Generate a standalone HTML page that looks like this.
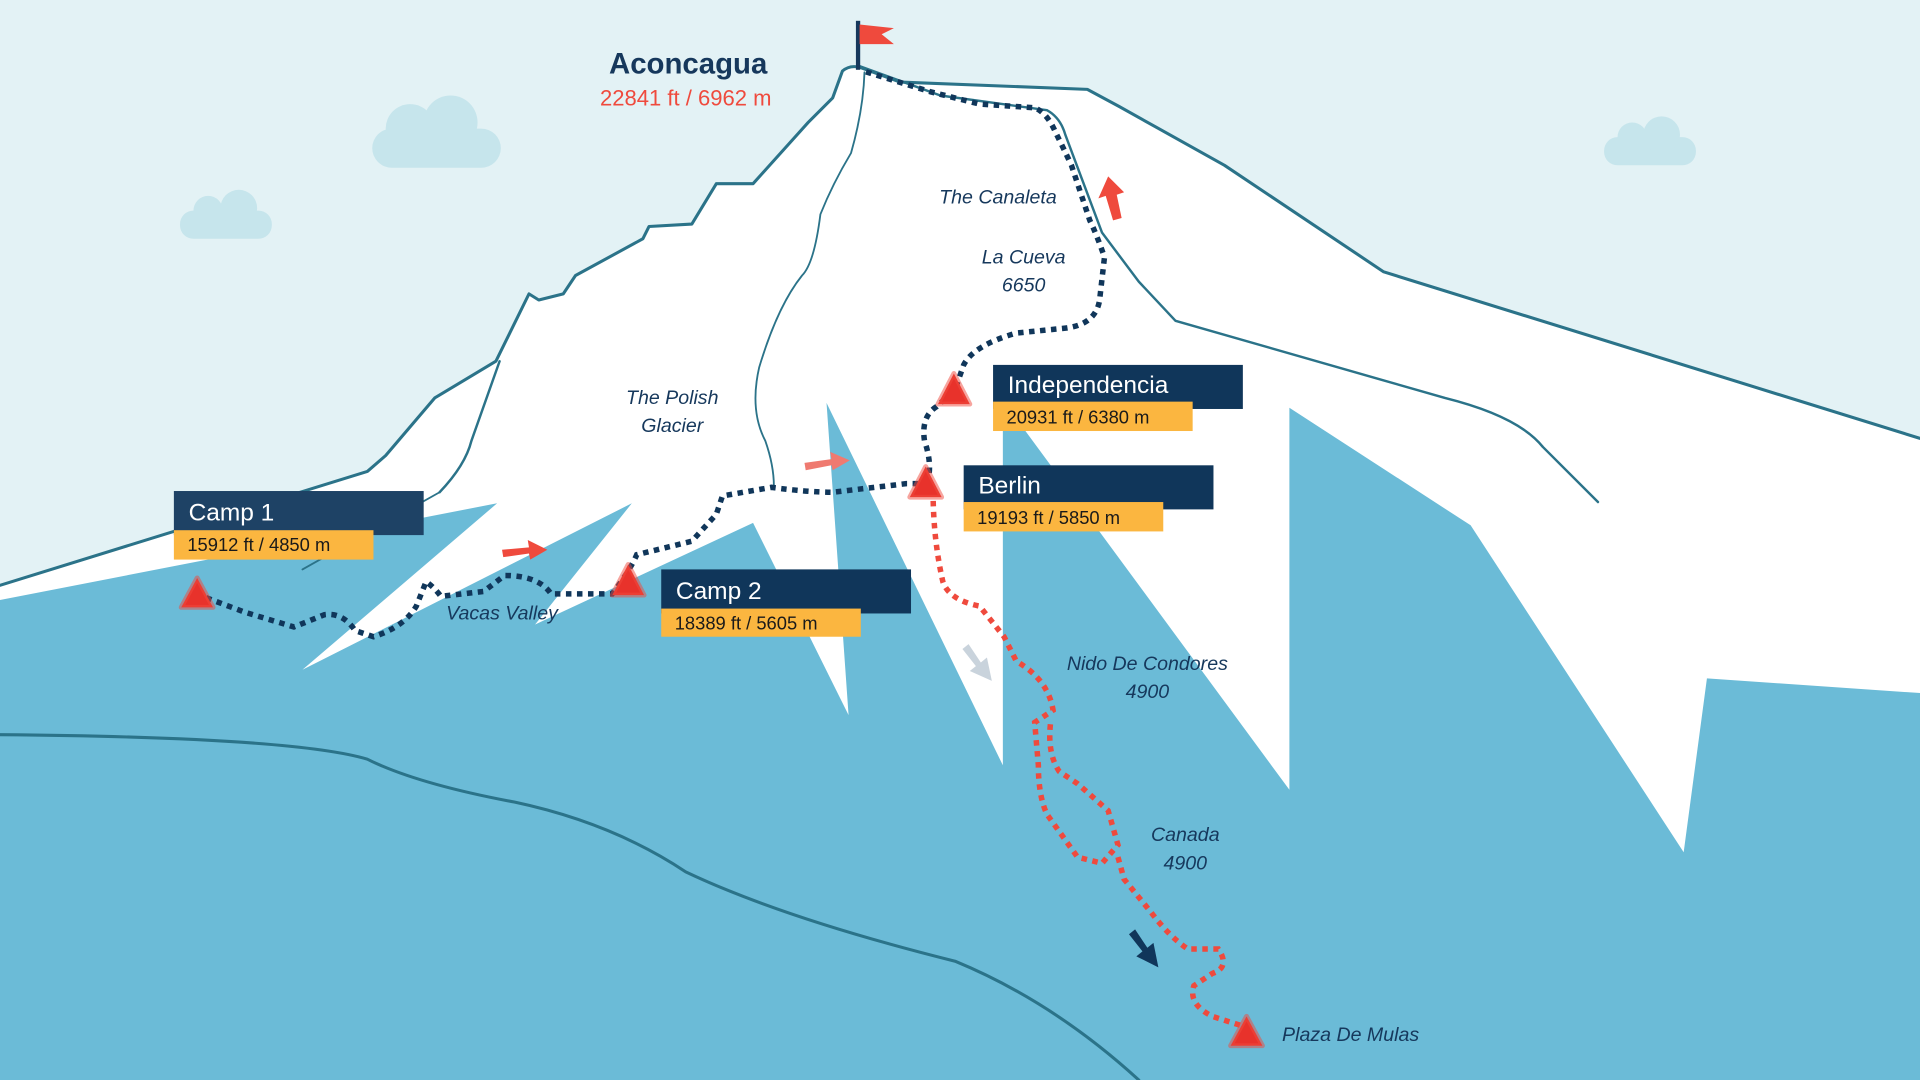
<!DOCTYPE html>
<html><head><meta charset="utf-8"><style>
html,body{margin:0;padding:0;width:1920px;height:1080px;overflow:hidden;background:#e3f2f5}
svg{display:block}
text{font-family:"Liberation Sans",sans-serif}
.it{font-style:italic;fill:#16385c;font-size:16px}
</style></head><body>
<svg width="1920" height="1080" viewBox="0 0 1568 882" xmlns="http://www.w3.org/2000/svg">
<rect width="1568" height="882" fill="#e3f2f5"/>
<!-- clouds -->
<g fill="#c6e5ec">
<rect x="304" y="105" width="105" height="32" rx="16"/><circle cx="335" cy="105" r="20"/><circle cx="368" cy="100" r="22"/>
<rect x="147" y="172" width="75" height="23" rx="11"/><circle cx="170" cy="172" r="12"/><circle cx="195" cy="170" r="15"/>
<rect x="1310" y="112" width="75" height="23" rx="11"/><circle cx="1333" cy="112" r="12"/><circle cx="1357" cy="110" r="15"/>
</g>
<!-- white mountain -->
<path d="M0,478 L300,385 L315,372 L355,325 L405,295 L432,240 L440,245 L460,240 L470,225 L525,195 L530,185 L565,183 L585,150 L615,150 L660,100 L680,80 L688,58 Q695,52 705,56 L735,67 L888,73 L914,87 L1000,135 L1130,222 L1568,358 L1568,882 L0,882 Z" fill="#fff"/>
<!-- blue foreground -->
<path d="M0,490 L406,411 L247,547 L516,411 L437,510 L615,427 L693,584 L675,329 L819,625 L819,350 L836,350 L1053,645 L1053,333 L1201,429 L1375,696 L1394,554 L1568,566 L1568,882 L0,882 Z" fill="#6bbbd7"/>
<!-- lines -->
<g fill="none" stroke="#2b7389" stroke-width="2.5" stroke-linecap="round" stroke-linejoin="round">
<path d="M0,478 L300,385 L315,372 L355,325 L405,295 L432,240 L440,245 L460,240 L470,225 L525,195 L530,185 L565,183 L585,150 L615,150 L660,100 L680,80 L688,58 Q695,52 705,56 L735,67 L888,73 L914,87 L1000,135 L1130,222 L1568,358"/>
<path d="M702,54 L768,78 L855,90 Q866,96 870,110 L900,190 L930,230 L960,262 L1180,325 Q1240,340 1260,365 L1305,410" stroke-width="2"/>
<path d="M359,402 Q380,380 385,360 L408,295" stroke-width="2"/>
<path d="M359,402 L247,465" stroke-width="1.5"/>
<path d="M706,59 Q705,90 695,125 Q680,150 670,175 Q665,215 655,225 Q635,250 620,300 Q612,335 625,360 Q632,380 632,397" stroke-width="1.5"/>
<path d="M0,600 Q240,602 300,620 Q340,640 420,655 Q500,672 560,712 Q640,750 780,785 Q860,818 930,882" stroke-width="2.5"/>
</g>
<!-- flag -->
<rect x="699" y="17" width="3.5" height="40" fill="#16385c"/>
<path d="M702,20 L730,23 L720,28 L730,36 L702,36 Z" fill="#ef4a3d"/>
<!-- trails -->
<g fill="none" stroke-width="4.5" stroke-dasharray="4.5 4.5">
<path stroke="#10365a" d="M160,485 L200,500 L240,512 L265,502 Q280,500 290,515 L305,520 Q330,512 340,495 L348,475 Q355,480 360,487 L395,483 L412,470 Q440,470 450,485 L500,485 Q515,465 520,453 L565,442 L585,420 L590,405 L630,398 Q660,402 680,402 L740,395 L757,395"/>
<path stroke="#10365a" d="M757,395 Q762,380 755,360 Q752,340 765,332 L780,318 L787,298 Q795,282 830,272 L870,268 Q895,265 898,245 L902,210 Q895,190 890,180 Q880,150 875,135 Q868,120 862,108 Q855,92 845,88 L800,85 L760,75 L705,58"/>
<path stroke="#ef4a3d" d="M762,400 Q762,440 770,475 Q775,490 800,495 L820,520 L830,540 Q856,555 860,580 L845,590 L848,625 Q848,650 855,665 L880,700 L900,705 L913,690 L905,662 L880,640 L865,630 Q855,615 858,590 M913,700 L918,718 L940,745 Q955,765 970,775 L995,775 Q1005,790 990,795 L975,805 Q970,820 990,830 L1015,838"/>
</g>
<!-- arrows -->
<g>
<path d="M410,449 L432,447 L431,441 L447,449 L433,457 L432,452 L411,455 Z" fill="#ef4a3d"/>
<path d="M657,378 L679,375 L678,369 L694,376 L680,384 L679,380 L658,384 Z" fill="#ef7a70"/>
<path d="M909,180 L903,160 L897,162 L905,144 L918,157 L912,159 L916,178 Z" fill="#ef4a3d"/>
<path d="M786,530 L797,544 L792,548 L810,556 L806,537 L801,541 L791,526 Z" fill="#c9d3dc"/>
<path d="M922,763 L933,777 L928,781 L946,790 L942,770 L937,774 L927,759 Z" fill="#10365a"/>
</g>
<!-- triangles -->
<g fill="#e8322b" stroke="rgba(239,74,61,0.5)" stroke-width="4" stroke-linejoin="round">
<path d="M161,472 L174,496 L148,496 Z"/>
<path d="M513,461 L526,486 L500,486 Z"/>
<path d="M756,381 L769,406 L743,406 Z"/>
<path d="M779,305 L792,330 L766,330 Z"/>
<path d="M1018,830 L1031,854 L1005,854 Z"/>
</g>
<!-- boxes -->
<g font-size="20" fill="#fff">
<rect x="142" y="401" width="204" height="36" fill="#1e4265"/>
<rect x="142" y="433" width="163" height="24" fill="#fbb640"/>
<text x="154" y="425">Camp 1</text>
<rect x="540" y="465" width="204" height="36" fill="#10365a"/>
<rect x="540" y="497" width="163" height="23" fill="#fbb640"/>
<text x="552" y="489">Camp 2</text>
<rect x="787" y="380" width="204" height="36" fill="#10365a"/>
<rect x="787" y="410" width="163" height="24" fill="#fbb640"/>
<text x="799" y="403">Berlin</text>
<rect x="811" y="298" width="204" height="36" fill="#10365a"/>
<rect x="811" y="328" width="163" height="24" fill="#fbb640"/>
<text x="823" y="321">Independencia</text>
</g>
<g font-size="15" fill="#1a1a1a">
<text x="153" y="450">15912 ft / 4850 m</text>
<text x="551" y="514">18389 ft / 5605 m</text>
<text x="798" y="428">19193 ft / 5850 m</text>
<text x="822" y="346">20931 ft / 6380 m</text>
</g>
<!-- title -->
<text x="562" y="60" text-anchor="middle" font-size="24" font-weight="bold" fill="#16385c">Aconcagua</text>
<text x="560" y="86" text-anchor="middle" font-size="18" fill="#ef4a3d">22841 ft  / 6962 m</text>
<!-- labels -->
<g class="it" text-anchor="middle">
<text class="it" x="815" y="166">The Canaleta</text>
<text class="it" x="836" y="215">La Cueva</text>
<text class="it" x="836" y="238">6650</text>
<text class="it" x="549" y="330">The Polish</text>
<text class="it" x="549" y="353">Glacier</text>
<text class="it" x="410" y="506">Vacas Valley</text>
<text class="it" x="937" y="547">Nido De Condores</text>
<text class="it" x="937" y="570">4900</text>
<text class="it" x="968" y="687">Canada</text>
<text class="it" x="968" y="710">4900</text>
</g>
<text class="it" x="1047" y="850">Plaza De Mulas</text>
</svg>
</body></html>
